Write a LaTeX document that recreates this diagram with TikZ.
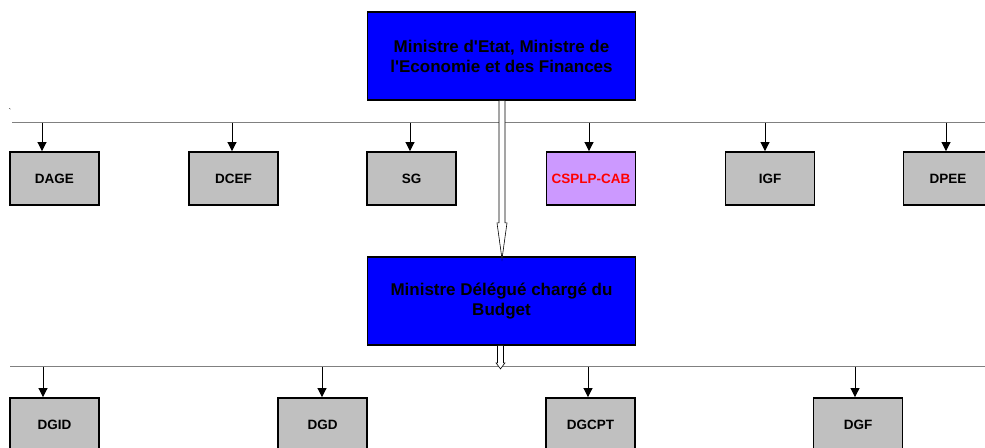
\documentclass[tikz,border=0pt]{standalone}
\usepackage{fontspec}
\setmainfont{Liberation Sans}
\usetikzlibrary{arrows.meta,calc}
\definecolor{silver}{RGB}{192,192,192}
\definecolor{lilac}{RGB}{204,153,255}
\definecolor{busgray}{RGB}{128,128,128}
\tikzstyle{arrow} = [-{Triangle[length=9pt,width=9pt]}, line width=0.7pt]
\tikzstyle{bus} = [busgray, line width=1pt]
\tikzstyle{unit} = [draw, line width=1.8pt, fill=silver, minimum width=89pt, minimum height=53pt, inner sep=0pt, font=\fontsize{13.5}{16}\selectfont\bfseries]
\tikzstyle{minister} = [unit, fill=blue, minimum width=268pt, minimum height=88pt, align=center, font=\fontsize{17}{20}\selectfont\bfseries]
\tikzstyle{hollow} = [draw=black, fill=white, line width=0.6pt]

\begin{document}
\begin{tikzpicture}[x=1pt,y=-1pt]
          \clip (0,0) rectangle (985,447);
          \fill[white] (0,0) rectangle (985,447);

          \node[minister] at (501.5,56) (mef) {Ministre d\textquotesingle Etat, Ministre de\\l\textquotesingle Economie et des Finances};
          \node[minister] at (501.5,301) (deleg) {Ministre Délégué chargé du\\Budget};

          \node[unit] at (54.5,178.5) (DAGE) {DAGE};
          \node[unit] at (233.5,178.5) (DCEF) {DCEF};
          \node[unit] at (411.5,178.5) (SG) {SG};
          \node[unit, fill=lilac, text=red] at (591,178.5) (CSPLP) {CSPLP-CAB};
          \node[unit] at (770,178.5) (IGF) {IGF};
          \node[unit] at (948,178.5) (DPEE) {DPEE};

          \node[unit] at (54.5,424.5) (DGID) {DGID};
          \node[unit] at (322.5,424.5) (DGD) {DGD};
          \node[unit] at (590.5,424.5) (DGCPT) {DGCPT};
          \node[unit] at (858,424.5) (DGF) {DGF};

          \node[font=\fontsize{8}{8}\selectfont, inner sep=0pt] at (10,112) (tick) {\textasciigrave};

          % first level
          \coordinate (bus1w) at (12,122.5);
          \coordinate (bus1e) at (985,122.5);
          \draw[bus] (bus1w) -- (bus1e);
          \coordinate (tDAGE) at (42,122.5);
          \coordinate (tDCEF) at (232,122.5);
          \coordinate (tSG) at (410,122.5);
          \coordinate (tCSPLP) at (589,122.5);
          \coordinate (tIGF) at (765,122.5);
          \coordinate (tDPEE) at (946,122.5);
          \draw[arrow] (tDAGE) -- (tDAGE |- DAGE.north);
          \draw[arrow] (tDCEF) -- (tDCEF |- DCEF.north);
          \draw[arrow] (tSG) -- (tSG |- SG.north);
          \draw[arrow] (tCSPLP) -- (tCSPLP |- CSPLP.north);
          \draw[arrow] (tIGF) -- (tIGF |- IGF.north);
          \draw[arrow] (tDPEE) -- (tDPEE |- DPEE.north);

          % second level
          \coordinate (bus2w) at (10,366.5);
          \coordinate (bus2e) at (985,366.5);
          \draw[bus] (bus2w) -- (bus2e);
          \coordinate (tDGID) at (43,366.5);
          \coordinate (tDGD) at (322,366.5);
          \coordinate (tDGCPT) at (588,366.5);
          \coordinate (tDGF) at (855,366.5);
          \draw[arrow] (tDGID) -- (tDGID |- DGID.north);
          \draw[arrow] (tDGD) -- (tDGD |- DGD.north);
          \draw[arrow] (tDGCPT) -- (tDGCPT |- DGCPT.north);
          \draw[arrow] (tDGF) -- (tDGF |- DGF.north);

          % hollow arrows
          \draw[hollow] ($(mef.south)+(-2.5,0)$) -- ++(0,122) -- ++(-2,0) -- ++(5,36) -- ++(5,-36) -- ++(-2,0) -- ++(0,-122);
          \draw[hollow] ($(deleg.south)+(-4,0)$) -- ++(0,17) -- ++(-1.5,0) -- ++(4.5,6) -- ++(4.5,-6) -- ++(-1.5,0) -- ++(0,-17);
\end{tikzpicture}
\end{document}
